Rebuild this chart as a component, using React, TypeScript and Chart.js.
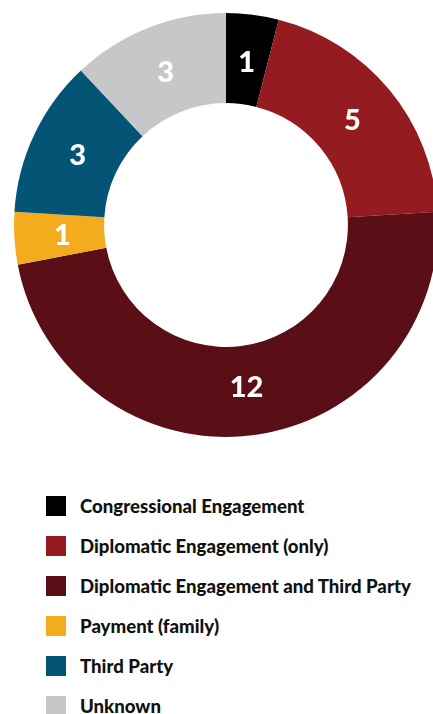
import React, { useEffect, useRef } from "react";
import { Chart, registerables } from "chart.js";

Chart.register(...registerables);

const categories = [
  "Congressional Engagement",
  "Diplomatic Engagement (only)",
  "Diplomatic Engagement and Third Party",
  "Payment (family)",
  "Third Party",
  "Unknown",
];
const counts = [1, 5, 12, 1, 3, 3];
const colors = ["#000000", "#941C20", "#5A0E15", "#F4AC1F", "#045475", "#C6C7C8"];

const FONT = "Lato, 'Open Sans', sans-serif";

const labelPlugin = {
  id: "arcLabels",
  afterDatasetsDraw(chart: any) {
    const ctx = chart.ctx;
    const meta = chart.getDatasetMeta(0);
    ctx.save();
    ctx.fillStyle = "#ffffff";
    ctx.font = `900 29px ${FONT}`;
    ctx.textAlign = "center";
    ctx.textBaseline = "middle";
    meta.data.forEach((arc: any, i: number) => {
      const p = arc.getProps(["x", "y", "startAngle", "endAngle", "innerRadius", "outerRadius"], true);
      const a = (p.startAngle + p.endAngle) / 2;
      const r = (p.innerRadius + p.outerRadius) / 2 - 3;
      ctx.fillText(String(counts[i]), p.x + Math.cos(a) * r, p.y + Math.sin(a) * r);
    });
    ctx.restore();
  },
};

export default function App() {
  const ref = useRef<HTMLCanvasElement>(null);
  useEffect(() => {
    document.body.style.margin = "0";
    document.body.style.overflow = "hidden";
    const chart = new Chart(ref.current!, {
      type: "doughnut",
      data: {
        labels: categories,
        datasets: [
          {
            data: counts,
            backgroundColor: colors,
            borderWidth: 0,
          },
        ],
      },
      options: {
        animation: false,
        responsive: false,
        cutout: "57.5%",
        layout: { padding: 13 },
        plugins: {
          legend: { display: false },
          tooltip: { enabled: false },
        },
      },
      plugins: [labelPlugin],
    });
    return () => chart.destroy();
  }, []);

  return (
    <div style={{ position: "relative", width: 433, height: 714, overflow: "hidden", background: "#fff" }}>
      <canvas ref={ref} width={452} height={450} style={{ position: "absolute", left: 0, top: 0, width: 452, height: 450 }} />
      <div style={{ position: "absolute", left: 46, top: 486 }}>
        {categories.map((c, i) => (
          <div key={c} style={{ display: "flex", alignItems: "center", height: 40 }}>
            <div style={{ width: 20, height: 20, background: colors[i], marginRight: 14, flexShrink: 0 }} />
            <span style={{ fontFamily: FONT, fontWeight: 900, fontSize: 18.6, color: "#111", whiteSpace: "nowrap", lineHeight: "20px" }}>{c}</span>
          </div>
        ))}
      </div>
    </div>
  );
}
